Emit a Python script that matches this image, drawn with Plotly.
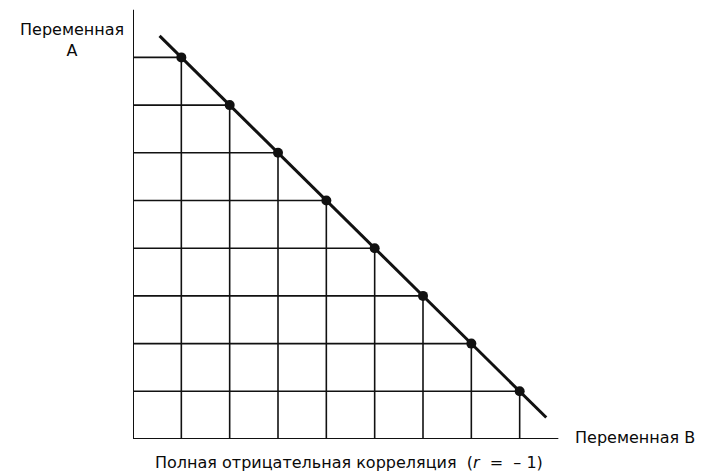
import numpy as np
import plotly.graph_objects as go

# Data
var_b = [1, 2, 3, 4, 5, 6, 7, 8]
var_a = [8, 7, 6, 5, 4, 3, 2, 1]
line_b_range = [0.55, 8.55]
axis_x_max = 8.8
axis_y_max = 9.0

label_a = "Переменная<br>А"
label_b = "Переменная В"
caption = "Полная отрицательная корреляция  (<i>r</i>  =  – 1)"

ink = "#111111"
X_MAX = 9.0
Y_MAX = 431 / 47.7

fig = go.Figure()

# grid lines from each point to the axes
gx, gy = [], []
for b, a in zip(var_b, var_a):
    gx += [0, b, None, b, b, None]
    gy += [a, a, None, a, 0, None]
fig.add_trace(go.Scatter(x=gx, y=gy, mode="lines",
                         line=dict(color=ink, width=1.6), hoverinfo="skip"))

# axes
fig.add_trace(go.Scatter(x=[0, 0, None, 0, axis_x_max], y=[axis_y_max, 0, None, 0, 0],
                         mode="lines", line=dict(color=ink, width=2), hoverinfo="skip"))

# fitted line
k, c = np.polyfit(var_b, var_a, 1)
lx = np.array(line_b_range)
fig.add_trace(go.Scatter(x=lx, y=k * lx + c, mode="lines",
                         line=dict(color=ink, width=3), hoverinfo="skip"))

# points
fig.add_trace(go.Scatter(x=var_b, y=var_a, mode="markers",
                         marker=dict(color=ink, size=10)))

font = dict(family="DejaVu Sans, Arial, sans-serif", size=16, color="#0a0a0a")


def ann(xd, yd, text, **kw):
    fig.add_annotation(x=xd / X_MAX, y=yd / Y_MAX, xref="paper", yref="paper",
                       xanchor="center", yanchor="middle",
                       text=text, showarrow=False, font=font, **kw)


ann(-1.26, 8.36, label_a, align="center")
ann(10.39, 0.04, label_b)
ann(4.47, -0.5, caption)

fig.update_layout(
    width=699, height=467,
    margin=dict(l=125, r=139, t=0, b=36),
    paper_bgcolor="white", plot_bgcolor="white",
    showlegend=False,
    xaxis=dict(range=[0, X_MAX], visible=False, fixedrange=True),
    yaxis=dict(range=[0, Y_MAX], visible=False, fixedrange=True),
)

fig.write_html("out.html")
